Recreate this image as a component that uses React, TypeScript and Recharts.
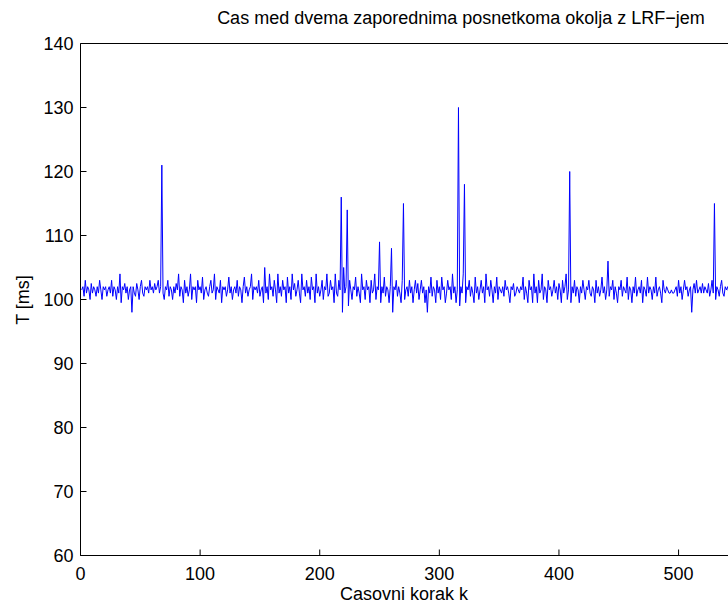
import React from "react";
import { LineChart, Line, XAxis, YAxis } from "recharts";

const xTicks = [0, 100, 200, 300, 400, 500];
const yTicks = [60, 70, 80, 90, 100, 110, 120, 130, 140];

// time between two consecutive LRF scans, in ms (one value per step k = 1..543)
const timesMs = [
  101.5, 102, 100.5, 103, 101, 102, 101.5, 100, 102.5, 101, 102, 101.5, 100.5, 102, 101, 103, 101.5, 100, 102, 101.5,
  102, 100.5, 101.5, 102, 101, 103, 100.5, 102, 101.5, 100, 102, 101, 104, 99.5, 102, 101.5, 102.5, 101, 102, 100,
  101.5, 102, 98, 102, 101, 100.5, 102.5, 101.5, 100, 102, 103, 101, 100.5, 102, 101.5, 102, 101, 103, 101.5, 102,
  101, 102.5, 101.5, 102, 103, 101, 102, 121, 101, 100, 102, 101.5, 103, 100.5, 102, 101.5, 100, 102, 101, 102.5,
  101.5, 104, 100.5, 102, 101.5, 99.5, 103, 101, 102, 100.5, 101.5, 104, 100, 102, 101.5, 102, 99.5, 103, 101.5, 102,
  101, 103.5, 100, 101.5, 102, 101, 100.5, 102, 103, 101, 101.5, 104, 100, 102, 101.5, 101, 103, 99.5, 102, 101.5,
  102, 100.5, 101.5, 103.5, 101, 102, 100, 101.5, 102, 101, 103, 100.5, 102, 101.5, 99.5, 102, 103.5, 101, 102, 100.5,
  101.5, 102, 104, 100, 102, 101.5, 102, 101, 103, 100.5, 101.5, 102, 99.5, 105, 101, 102, 100, 104, 101.5, 102,
  100.5, 103, 101.5, 99.5, 104, 101, 102, 100.5, 103, 101.5, 102, 99.5, 103.5, 101, 102, 100, 104, 101.5, 102.5, 100.5,
  101.5, 103, 101, 99.5, 104, 101.5, 102, 100.5, 103, 101, 102, 100, 103.5, 101.5, 102, 99.5, 104, 101, 102, 100.5,
  101.5, 103, 100, 102, 101.5, 104, 100.5, 101, 103, 101.5, 102, 99.5, 104, 101, 100.5, 103, 101.5, 116, 98, 105,
  101, 102, 114, 99, 103, 101.5, 100, 102, 101.5, 103.5, 100.5, 102, 101, 99.5, 104, 101.5, 102, 100, 103, 101.5,
  102, 99.5, 103, 101, 101.5, 104, 100, 102, 101.5, 109, 99.5, 102, 101, 103.5, 100.5, 102, 101.5, 99.5, 102, 108,
  98, 102, 101.5, 103, 100.5, 102, 101, 99.5, 103, 115, 100, 101.5, 102, 100.5, 103, 101, 102, 99.5, 101.5, 103,
  101, 102.5, 100, 101.5, 103, 101, 102, 99.5, 101.5, 98, 102, 101, 103.5, 100.5, 102, 101.5, 99.5, 103, 101, 102,
  100, 103.5, 101.5, 102, 99.5, 101, 103, 101.5, 102, 100, 104, 101, 102, 99.5, 101.5, 130, 99, 102, 101, 104,
  118, 99.5, 102, 101.5, 103, 100.5, 102, 101, 99.5, 103.5, 101, 102, 100, 101.5, 103, 101, 102, 99.5, 104, 101.5,
  102, 100.5, 103, 101.5, 99.5, 102, 101, 103.5, 100, 102, 101.5, 101, 102, 100.5, 103, 101.5, 102, 101, 99.5, 102,
  101.5, 102.5, 100.5, 101, 102, 101.5, 101, 102, 101.5, 103.5, 100, 102, 101, 99.5, 103, 101.5, 102, 99.5, 104, 101,
  102, 99.5, 103, 101, 101.5, 104, 100, 102, 101.5, 99.5, 103, 101.5, 102, 100.5, 101.5, 103, 101, 102, 100, 102.5,
  101.5, 99.5, 103, 101, 102, 104, 100, 101.5, 120, 99.5, 102, 101, 103, 100.5, 102, 101.5, 99.5, 102, 101, 103,
  101.5, 100, 102, 101.5, 103, 101, 100.5, 102, 101.5, 99.5, 103, 101, 102, 100.5, 101.5, 103.5, 101, 102, 100, 101.5,
  106, 100.5, 102, 101.5, 103, 100, 102, 101, 99.5, 102, 101.5, 103, 100.5, 102, 101.5, 101, 103.5, 100, 102, 101.5,
  99.5, 102, 101, 103.5, 100.5, 101.5, 102, 101, 103, 99.5, 102, 101.5, 100.5, 103.5, 101, 102, 101.5, 100, 102, 101,
  103.5, 100.5, 101.5, 102, 101, 99.5, 103, 101.5, 101, 102, 101.5, 101, 101, 101.5, 101, 101, 101.5, 102, 100.5, 103,
  101, 102, 100, 101.5, 103, 101.5, 102, 100.5, 101.5, 102, 98, 101.5, 102.5, 101, 103, 101, 101.5, 102, 101, 102.5,
  101, 102, 101.5, 101, 102.5, 100.5, 101.5, 103, 101, 115, 100, 102, 101.5, 100.5, 102, 103, 101, 100.5, 102, 101.5,
  102, 101, 101.5,
];

const data = timesMs.map((t, i) => ({ k: i + 1, t }));

const FONT = "'Liberation Sans', Arial, Helvetica, sans-serif";
const tickStyle = { fontSize: 18, fill: "#000", fontFamily: FONT };

const App = () => {
  return (
    <div
      style={{
        position: "absolute",
        left: 0,
        top: 0,
        width: 728,
        height: 604,
        background: "#fff",
        overflow: "hidden",
      }}
    >
      <LineChart
        width={728}
        height={604}
        data={data}
        margin={{ top: 42.5, right: -12, bottom: 0, left: 0 }}
      >
        <XAxis
          xAxisId="bottom"
          dataKey="k"
          type="number"
          domain={[0, 543]}
          ticks={xTicks}
          height={48.5}
          tickSize={-6}
          tickMargin={18}
          stroke="#000"
          tick={tickStyle}
        />
        <XAxis
          xAxisId="top"
          orientation="top"
          dataKey="k"
          type="number"
          domain={[0, 543]}
          ticks={xTicks}
          height={1}
          tickSize={-6}
          stroke="#000"
          tick={false}
        />
        <YAxis
          yAxisId="left"
          type="number"
          domain={[60, 140]}
          ticks={yTicks}
          width={80.5}
          tickSize={-6}
          tickMargin={13}
          stroke="#000"
          tick={tickStyle}
        />
        <YAxis
          yAxisId="right"
          orientation="right"
          type="number"
          domain={[60, 140]}
          ticks={yTicks}
          width={10}
          tickSize={-6}
          stroke="#000"
          tick={false}
        />
        <Line
          xAxisId="bottom"
          yAxisId="left"
          dataKey="t"
          type="linear"
          stroke="#0000ff"
          strokeWidth={1}
          dot={false}
          isAnimationActive={false}
        />
      </LineChart>
      <svg
        width={728}
        height={604}
        style={{ position: "absolute", left: 0, top: 0, pointerEvents: "none" }}
      >
        <text x={461} y={24} textAnchor="middle" fontSize={18} fontFamily={FONT} fill="#000">
          Cas med dvema zaporednima posnetkoma okolja z LRF−jem
        </text>
        <text x={404} y={600} textAnchor="middle" fontSize={18} fontFamily={FONT} fill="#000">
          Casovni korak k
        </text>
        <text
          transform="translate(29,300) rotate(-90)"
          textAnchor="middle"
          fontSize={18}
          fontFamily={FONT}
          fill="#000"
        >
          T [ms]
        </text>
      </svg>
    </div>
  );
};

export default App;
